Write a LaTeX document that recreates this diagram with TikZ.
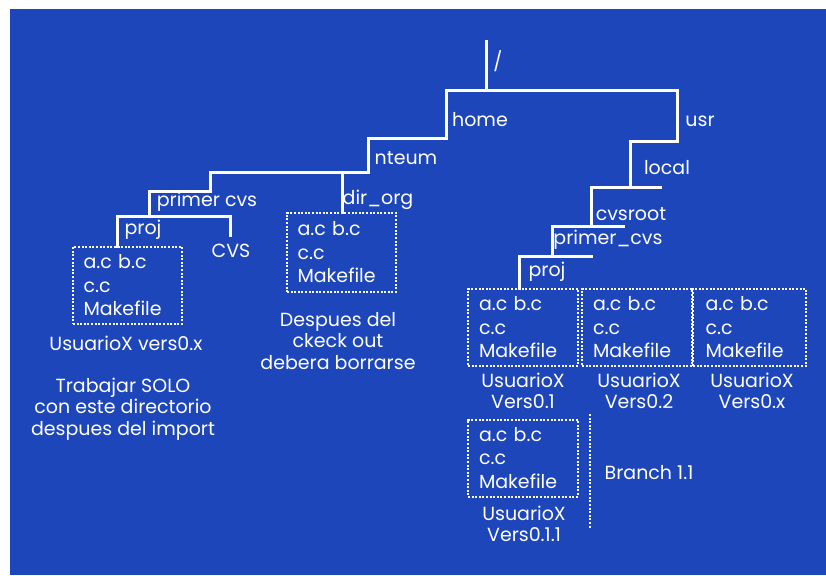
\documentclass[tikz,border=0pt]{standalone}
\usepackage{fontspec}
\setmainfont{Poppins}
\definecolor{bgblue}{RGB}{29,70,186}
\tikzset{
  tree/.style={draw=white, line width=3pt, line cap=rect, line join=miter},
  lbl/.style={text=white, inner sep=0pt, font=\fontsize{19}{21.5}\selectfont, align=center},
  fbox/.style={draw=white, line width=2pt, dash pattern=on 2pt off 1.6pt, text=white,
    inner ysep=0pt, inner xsep=10.5pt, text width=88pt, align=left, minimum height=77pt,
    font=\fontsize{19}{23.5}\selectfont},
  branchline/.style={draw=white, line width=2pt, dash pattern=on 2pt off 1.6pt}
}
\begin{document}
\begin{tikzpicture}[x=1pt,y=-1pt]
\useasboundingbox (0,0) rectangle (826,575);
\fill[white] (0,0) rectangle (826,575);
\fill[bgblue] (10,9) rectangle (826,575);

% junction coordinates
\coordinate (rtop) at (486,42);
\coordinate (rj) at (486,91);
\coordinate (h0) at (446,91);
\coordinate (h1) at (446,138);
\coordinate (n0) at (368,138);
\coordinate (n1) at (368,172);
\coordinate (d0) at (342,172);
\coordinate (p0) at (210,172);
\coordinate (p1) at (210,191);
\coordinate (p2) at (149,191);
\coordinate (p3) at (149,216);
\coordinate (j0) at (117,216);
\coordinate (c0) at (230,216);
\coordinate (c1) at (230,235);
\coordinate (u0) at (677,91);
\coordinate (u1) at (677,141);
\coordinate (l0) at (630,141);
\coordinate (l1) at (630,187);
\coordinate (cr0) at (660,187);
\coordinate (cr1) at (591,187);
\coordinate (cr2) at (591,226);
\coordinate (pc0) at (623,226);
\coordinate (pc1) at (552,226);
\coordinate (pc2) at (552,256);
\coordinate (pj0) at (591,256);
\coordinate (pj1) at (519,256);

% file boxes
\node[fbox, minimum height=77pt] (b1) at (127.5,285.5) {a.c b.c\\c.c\\Makefile};
\node[fbox, minimum height=79pt] (b2) at (341.5,252.5) {a.c b.c\\c.c\\Makefile};
\node[fbox, inner xsep=11pt] (b3) at (523,327.5) {a.c b.c\\c.c\\Makefile};
\node[fbox, inner xsep=11pt] (b4) at (637,327.5) {a.c b.c\\c.c\\Makefile};
\node[fbox, inner xsep=12.5pt] (b5) at (749.5,327.5) {a.c b.c\\c.c\\Makefile};
\node[fbox, inner xsep=11pt] (b6) at (523,458) {a.c b.c\\c.c\\Makefile};

% labels
\node[lbl] (slash) at (498,61) {/};
\node[lbl] (home) at (480,120) {home};
\node[lbl] (usr) at (700,121) {usr};
\node[lbl] (nteum) at (406,158) {nteum};
\node[lbl] (local) at (667,168) {local};
\node[lbl] (primercvs) at (207,202) {primer cvs};
\node[lbl] (dirorg) at (378,200) {dir\_org};
\node[lbl] (projl) at (143,230) {proj};
\node[lbl] (cvs) at (231,251) {CVS};
\node[lbl] (cvsroot) at (631,214) {cvsroot};
\node[lbl] (primercvsr) at (608,240) {primer\_cvs};
\node[lbl] (projr) at (547,272) {proj};

\node[lbl] (u1lbl) at (126,343) {UsuarioX vers0.x};
\node[lbl] (trab) at (123,409) {Trabajar SOLO\\con este directorio\\despues del import};
\node[lbl] (desp) at (338,341) {Despues del\\ckeck out\\debera borrarse};
\node[lbl] (v01) at (523,391) {UsuarioX\\Vers0.1};
\node[lbl] (v02) at (639,391) {UsuarioX\\Vers0.2};
\node[lbl] (v0x) at (752,391) {UsuarioX\\Vers0.x};
\node[lbl] (v011) at (524,524) {UsuarioX\\Vers0.1.1};
\node[lbl] (branch) at (649,473) {Branch 1.1};

% tree connectors
\draw[tree] (rtop) -- (rj);
\draw[tree] (u0) -- (h0) -- (h1) -- (n0) -- (n1) -- (p0) -- (p1) -- (p2) -- (p3) -- (j0) -- (j0 |- b1.north);
\draw[tree] (p3) -- (c0) -- (c1);
\draw[tree] (d0) -- (d0 |- b2.north);
\draw[tree] (u0) -- (u1) -- (l0) -- (l1);
\draw[tree] (cr0) -- (cr1) -- (cr2);
\draw[tree] (pc0) -- (pc1) -- (pc2);
\draw[tree] (pj0) -- (pj1) -- (pj1 |- b3.north);

% branch marker
\coordinate (br0) at (590,414);
\coordinate (br1) at (590,528);
\draw[branchline] (br0) -- (br1);
\end{tikzpicture}
\end{document}
